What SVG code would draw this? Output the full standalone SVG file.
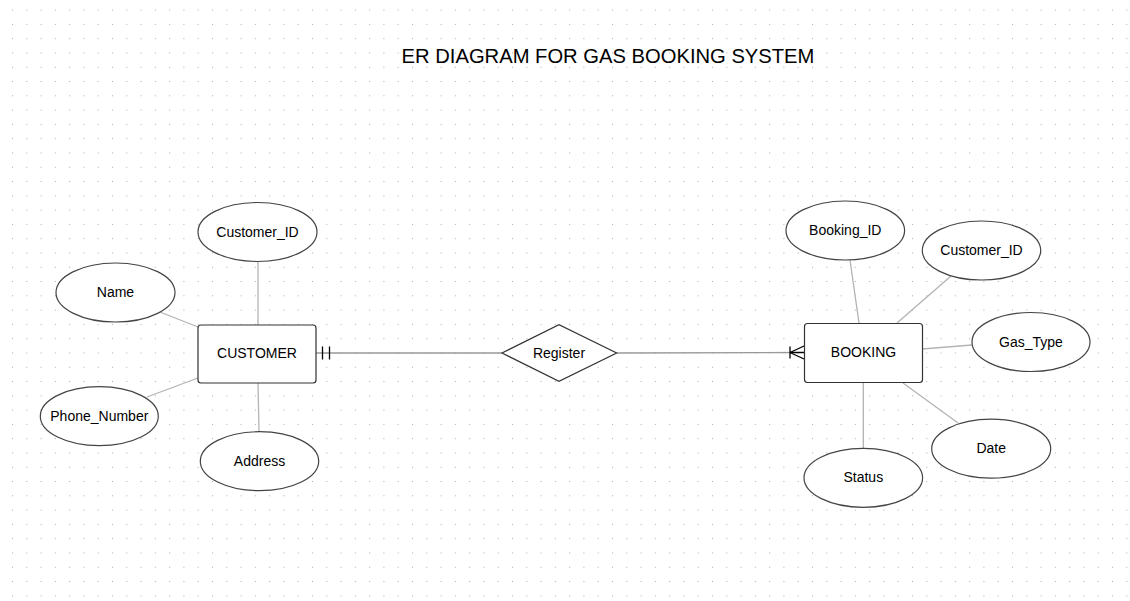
<svg xmlns="http://www.w3.org/2000/svg" width="1130" height="601" viewBox="0 0 1130 601">
<style>
.ent{fill:#fff;stroke:#333;stroke-width:1.2}
.attr{fill:#fff;stroke:#444;stroke-width:1.2}
.lbl{font-family:"Liberation Sans",Arial,sans-serif;font-size:14px;fill:#000;text-anchor:middle}
.al{stroke:#b3b3b3;stroke-width:1.3;fill:none}
.rl{stroke:#999;stroke-width:1.3;fill:none}
.mk{stroke:#000;stroke-width:1.3;fill:none}
</style>
<defs>
<pattern id="grid" patternUnits="userSpaceOnUse" x="12" y="9.6" width="14.2857" height="14.2857">
<rect x="0" y="0" width="1" height="1" fill="#ababab"/>
</pattern>
</defs>
<rect width="1130" height="601" fill="#fff"/>
<rect width="1130" height="601" fill="url(#grid)"/>
<text x="608" y="63" font-family="Liberation Sans,Arial,sans-serif" font-size="20.2" text-anchor="middle" fill="#000">ER DIAGRAM FOR GAS BOOKING SYSTEM</text>
<g id="connectors">
<line class="al" x1="258" y1="262" x2="258" y2="325"/>
<line class="al" x1="160" y1="312" x2="198" y2="327"/>
<line class="al" x1="147" y1="397" x2="198" y2="378"/>
<line class="al" x1="258" y1="383" x2="259" y2="432"/>
<line class="al" x1="850" y1="260" x2="859" y2="323"/>
<line class="al" x1="951" y1="276" x2="897" y2="323"/>
<line class="al" x1="922" y1="349" x2="972" y2="345"/>
<line class="al" x1="903" y1="383" x2="958" y2="423"/>
<line class="al" x1="863.3" y1="382" x2="863.3" y2="448"/>
<line class="rl" x1="316" y1="353" x2="502" y2="353"/>
<line class="mk" x1="322.5" y1="346.5" x2="322.5" y2="359.5"/>
<line class="mk" x1="329.5" y1="346.5" x2="329.5" y2="359.5"/>
<line class="rl" x1="617" y1="353" x2="804" y2="352.5"/>
<line class="mk" x1="790" y1="346.5" x2="790" y2="358.5"/>
<line class="mk" x1="790" y1="352.5" x2="804" y2="352.5"/>
<line class="mk" x1="790" y1="352.5" x2="804" y2="346"/>
<line class="mk" x1="790" y1="352.5" x2="804" y2="359"/>
</g>
<g id="customer">
<rect class="ent" x="198" y="325" width="118" height="58" rx="3"/>
<text class="lbl" x="257" y="357.5">CUSTOMER</text>
</g>
<g id="register">
<polygon class="ent" points="502,353 559,324.7 616.7,353 559,381.3"/>
<text class="lbl" x="559" y="357.5">Register</text>
</g>
<g id="booking">
<rect class="ent" x="804.5" y="323.5" width="118" height="59" rx="3"/>
<text class="lbl" x="863.5" y="356.5">BOOKING</text>
</g>
<g id="c_customer_id">
<ellipse class="attr" cx="257.5" cy="232" rx="59.5" ry="29.5"/>
<text class="lbl" x="257.5" y="236.5">Customer_ID</text>
</g>
<g id="c_name">
<ellipse class="attr" cx="115.5" cy="292.5" rx="59.5" ry="29.5"/>
<text class="lbl" x="115.5" y="297">Name</text>
</g>
<g id="c_phone">
<ellipse class="attr" cx="99.3" cy="416.2" rx="59" ry="29.5"/>
<text class="lbl" x="99.3" y="420.7">Phone_Number</text>
</g>
<g id="c_address">
<ellipse class="attr" cx="259.5" cy="461.2" rx="59.2" ry="29.5"/>
<text class="lbl" x="259.5" y="465.7">Address</text>
</g>
<g id="b_booking_id">
<ellipse class="attr" cx="845.3" cy="230.5" rx="59.3" ry="29.5"/>
<text class="lbl" x="845.3" y="235">Booking_ID</text>
</g>
<g id="b_customer_id">
<ellipse class="attr" cx="981.5" cy="250.5" rx="59.2" ry="29.5"/>
<text class="lbl" x="981.5" y="255">Customer_ID</text>
</g>
<g id="b_gas_type">
<ellipse class="attr" cx="1031" cy="342" rx="59" ry="29.5"/>
<text class="lbl" x="1031" y="346.5">Gas_Type</text>
</g>
<g id="b_date">
<ellipse class="attr" cx="991.2" cy="448.7" rx="59.5" ry="29.5"/>
<text class="lbl" x="991.2" y="453.2">Date</text>
</g>
<g id="b_status">
<ellipse class="attr" cx="863.3" cy="477.8" rx="59.3" ry="29.5"/>
<text class="lbl" x="863.3" y="482.3">Status</text>
</g>
</svg>
